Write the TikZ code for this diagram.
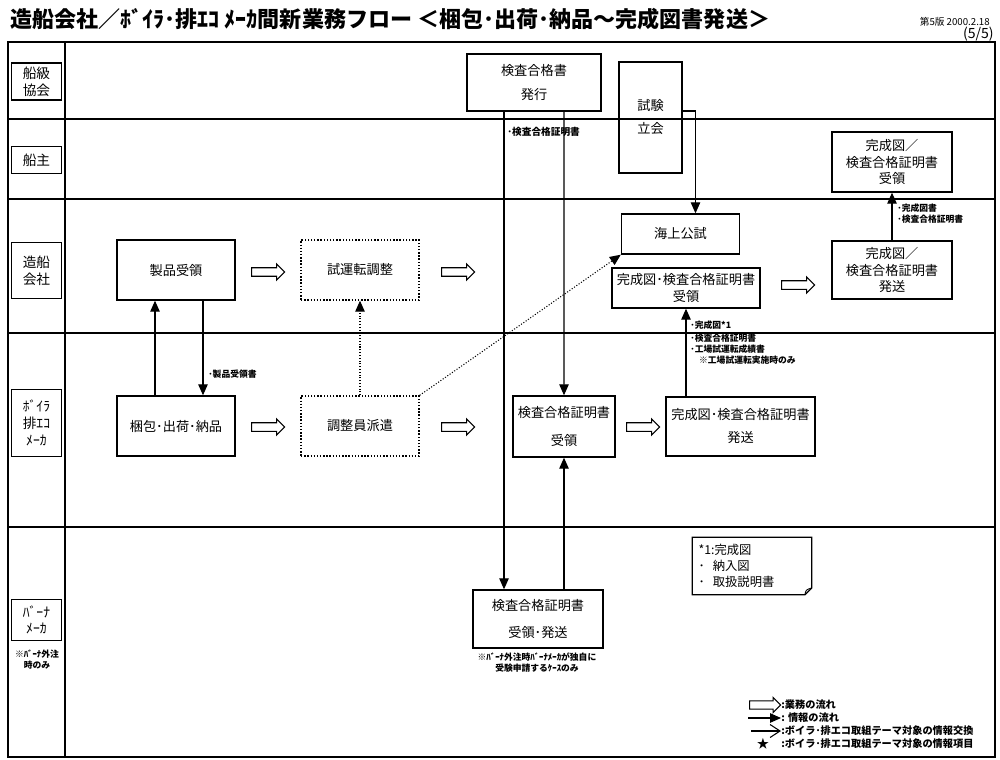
\documentclass[tikz,border=0pt]{standalone}
\usepackage{fontspec}
\setmainfont{Noto Sans CJK JP}
\usetikzlibrary{arrows.meta,shapes.arrows,positioning}

\begin{document}
\begin{tikzpicture}[x=0.02cm,y=-0.02cm,>={Triangle[length=2.2mm,width=1.9mm]},
  lane/.style={draw,line width=0.7pt,minimum width=1cm,align=center,inner sep=0pt,font=\fontsize{7.8}{9.5}\selectfont},
  box/.style={draw,line width=0.8pt,align=center,inner sep=0pt,font=\fontsize{7.5}{9.5}\selectfont},
  dotbox/.style={box,densely dotted},
  flow/.style={single arrow,draw,line width=0.6pt,minimum height=0.66cm,minimum width=0.3cm,single arrow head extend=0.075cm,inner xsep=0pt,inner ysep=0.075cm},
  info/.style={anchor=west,font=\bfseries\fontsize{5}{6.3}\selectfont,align=left,inner sep=0pt},
  legtext/.style={anchor=west,font=\bfseries\fontsize{5.8}{7}\selectfont,inner sep=0pt},
  link/.style={->,line width=0.6pt}]
  \useasboundingbox (0,0) rectangle (1000,760);

  \node[anchor=west,inner sep=0pt,font=\bfseries\fontsize{12.55}{14}\selectfont] (title) at (10,19)
    {造船会社／ﾎﾞｲﾗ･排ｴｺ ﾒｰｶ間新業務フロー ＜梱包･出荷･納品～完成図書発送＞};
  \node[anchor=east,inner sep=0pt,font=\fontsize{5.5}{6}\selectfont] (ver) at (990,22) {第5版 2000.2.18};
  \node[anchor=east,inner sep=0pt,font=\fontsize{8}{9}\selectfont] (page) at (994,34) {(5/5)};

  \draw[line width=0.8pt] (8,42) rectangle (995,757);
  \draw[line width=0.8pt] (65,42) -- (65,757);
  \foreach \y in {119,199,333,527}{
    \draw[line width=0.7pt] (8,\y) -- (995,\y);
  }

  \node[lane,minimum height=0.74cm] (lane1) at (36.5,81.5) {船級\\協会};
  \node[lane,minimum height=0.54cm] (lane2) at (36.5,160) {船主};
  \node[lane,minimum height=1.12cm] (lane3) at (36.5,270.5) {造船\\会社};
  \node[lane,minimum height=1.34cm] (lane4) at (36.5,423) {ﾎﾞｲﾗ\\排ｴｺ\\ﾒｰｶ};
  \node[lane,minimum height=0.82cm] (lane5) at (36.5,620) {ﾊﾞｰﾅ\\ﾒｰｶ};
  \node[info,anchor=center,align=center] (lane5note) at (37,660) {※ﾊﾞｰﾅ外注\\時のみ};

  \node[box,minimum width=2.68cm,minimum height=1.14cm] (hakko) at (534,82.5) {検査合格書\\[4.7pt]発行};
  \node[box,minimum width=1.26cm,minimum height=2.22cm] (shiken) at (650.5,117.5) {試験\\[3.6pt]立会};
  \node[box,minimum width=2.36cm,minimum height=0.8cm] (kaijo) at (680.5,234) {海上公試};
  \node[box,minimum width=2.96cm,minimum height=0.8cm] (kanuke) at (686,288) {完成図･検査合格証明書\\受領};
  \node[box,minimum width=2.4cm,minimum height=1.2cm] (senuke) at (892,162) {完成図／\\検査合格証明書\\受領};
  \node[box,minimum width=2.4cm,minimum height=1.16cm] (senhasso) at (892,270) {完成図／\\検査合格証明書\\発送};
  \node[box,minimum width=2.36cm,minimum height=1.2cm] (seihin) at (176,270) {製品受領};
  \node[dotbox,minimum width=2.36cm,minimum height=1.2cm] (shiunten) at (360,270) {試運転調整};
  \node[box,minimum width=2.36cm,minimum height=1.2cm] (konpo) at (176,426) {梱包･出荷･納品};
  \node[dotbox,minimum width=2.36cm,minimum height=1.2cm] (chousei) at (360,426) {調整員派遣};
  \node[box,minimum width=2.04cm,minimum height=1.22cm] (ukeryo) at (564,426.5) {検査合格証明書\\[7pt]受領};
  \node[box,minimum width=2.98cm,minimum height=1.18cm] (kanhasso) at (740.5,426.5) {完成図･検査合格証明書\\[3.6pt]発送};
  \node[box,minimum width=2.6cm,minimum height=1.16cm] (burner) at (538,619) {検査合格証明書\\[6pt]受領･発送};
  \node[info,anchor=center,align=center] (burnernote) at (537,663) {※ﾊﾞｰﾅ外注時ﾊﾞｰﾅﾒｰｶが独自に\\受験申請するｹｰｽのみ};

  \foreach \n/\x/\y in {f1/266/272,f2/456/272,f3/796/285,f4/266/427,f5/456/427,f6/641/427}{
    \node[flow] (\n) at (\x,\y) {};
  }

  \draw[link] ([xshift=-0.42cm]konpo.north) -- ([xshift=-0.42cm]seihin.south);
  \draw[link] ([xshift=0.54cm]seihin.south) -- ([xshift=0.54cm]konpo.north);
  \node[info] (seihinsho) at (208,374) {･製品受領書};
  \draw[link,densely dotted] (chousei.north) -- (shiunten.south);
  \draw[link,densely dotted] (chousei.north east) -- (kaijo.south west);
  \draw[link] ([yshift=0.13cm]shiken.east) -| ([xshift=0.3cm]kaijo.north);
  \draw[link] ([xshift=-0.6cm]hakko.south) -- ([xshift=-0.6cm]hakko.south |- burner.north);
  \draw[link] ([xshift=0.6cm]hakko.south) -- (ukeryo.north);
  \node[info,font=\bfseries\fontsize{5.5}{6.5}\selectfont] (hakkosho) at (507,132) {･検査合格証明書};
  \draw[link] (burner.north -| ukeryo.south) -- (ukeryo.south);
  \draw[link] (kanhasso.north -| kanuke.south) -- (kanuke.south);
  \node[info] (kanzu) at (690,325) {･完成図*1};
  \node[info] (seiseki) at (690,349) {･検査合格証明書\\･工場試運転成績書\\\quad※工場試運転実施時のみ};
  \draw[link] (senhasso.north) -- (senuke.south);
  \node[info] (tosho) at (897,214) {･完成図書\\･検査合格証明書};

  \node[align=left,text width=2.14cm,inner xsep=0.12cm,minimum height=1.14cm,font=\fontsize{7}{9}\selectfont] (note) at (752,566)
    {*1:完成図\\･\ \ 納入図\\･\ \ 取扱説明書};
  \draw[line width=0.7pt] (note.north west) -- (note.north east) -- ([yshift=0.14cm]note.south east)
    -- ([xshift=-0.14cm]note.south east) -- (note.south west) -- cycle;
  \draw[line width=0.5pt] ([yshift=0.14cm]note.south east) .. controls ([xshift=-0.12cm,yshift=0.1cm]note.south east) .. ([xshift=-0.14cm]note.south east);

  \node[legtext] (leg1) at (781,705) {:業務の流れ};
  \node[flow,minimum height=0.62cm,inner ysep=0.06cm,single arrow head extend=0.06cm] (legf) at (763,705) {};
  \node[legtext] (leg2) at (781,718) {: 情報の流れ};
  \draw[link] ([xshift=-0.66cm]leg2.west) -- (leg2.west);
  \node[legtext] (leg3) at (781,731) {:ボイラ･排エコ取組テーマ対象の情報交換};
  \draw[line width=0.6pt,-{Straight Barb[length=2mm,width=2.6mm]}] ([xshift=-0.6cm]leg3.west) -- (leg3.west);
  \node[legtext] (leg4) at (781,744) {:ボイラ･排エコ取組テーマ対象の情報項目};
  \node[inner sep=0pt,font=\fontsize{7}{8}\selectfont] (legstar) at (763,744) {★};
\end{tikzpicture}
\end{document}
